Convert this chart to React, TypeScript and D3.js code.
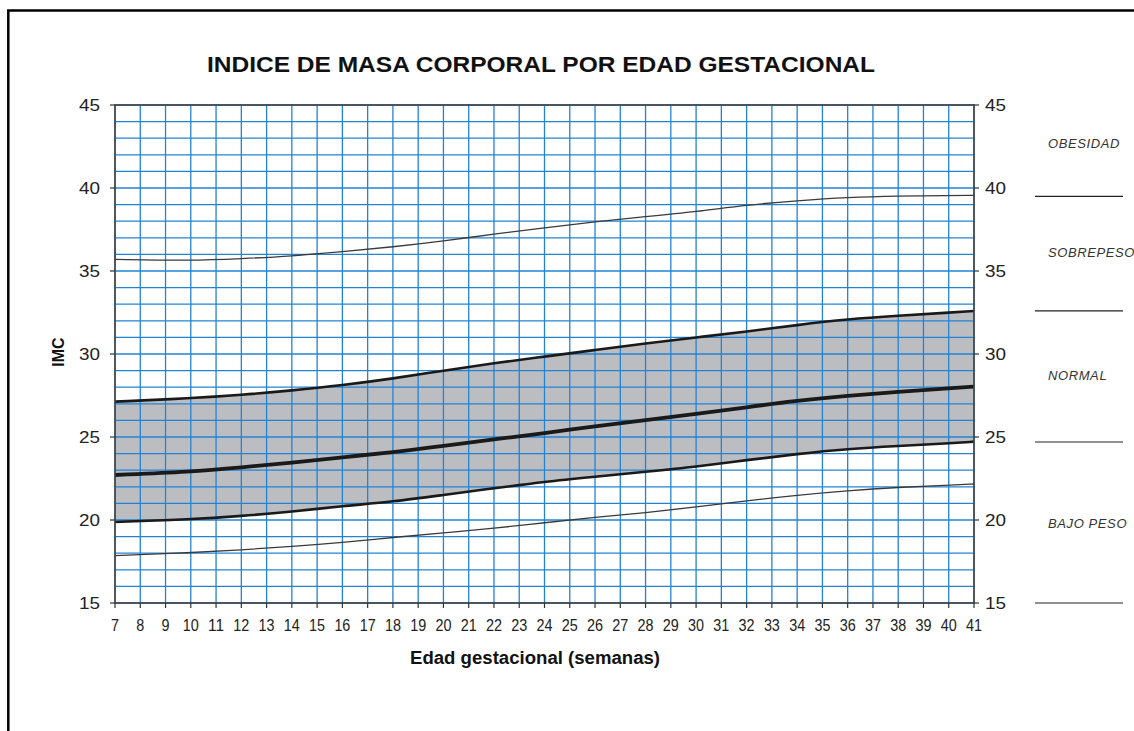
import React, { useEffect, useRef } from "react";
import * as d3 from "d3";

// semanas de gestacion y valores de IMC
const weeks = [7, 10, 12, 14, 16, 18, 20, 22, 24, 26, 28, 30, 32, 34, 36, 38, 40, 41];
const imcObesidad = [35.7, 35.62, 35.74, 35.9, 36.16, 36.45, 36.8, 37.23, 37.6, 37.97, 38.27, 38.57, 38.98, 39.24, 39.44, 39.52, 39.55, 39.56];
const imcSobrepeso = [27.13, 27.33, 27.53, 27.8, 28.12, 28.52, 29.0, 29.45, 29.84, 30.24, 30.64, 31.0, 31.35, 31.75, 32.1, 32.31, 32.49, 32.59];
const imcMedia = [22.71, 22.91, 23.17, 23.45, 23.78, 24.08, 24.46, 24.86, 25.22, 25.66, 26.02, 26.38, 26.79, 27.19, 27.49, 27.73, 27.93, 28.03];
const imcNormalMin = [19.88, 20.04, 20.24, 20.5, 20.84, 21.1, 21.51, 21.91, 22.31, 22.61, 22.91, 23.21, 23.61, 23.98, 24.28, 24.46, 24.62, 24.72];
const imcBajo = [17.85, 18.03, 18.2, 18.4, 18.64, 18.95, 19.23, 19.49, 19.84, 20.16, 20.44, 20.78, 21.16, 21.5, 21.77, 21.97, 22.1, 22.17];

// zonas de la derecha
const zoneNames = ["OBESIDAD", "SOBREPESO", "NORMAL", "BAJO PESO"];
const zoneLabelAt = [42.7, 36.1, 28.7, 19.8];
const zoneLimits = [39.5, 32.6, 24.7, 15];

const xTicks = d3.range(7, 42);
const yTicks = [15, 20, 25, 30, 35, 40, 45];
const yGrid = d3.range(15, 46);

const font = "'Liberation Sans', Arial, sans-serif";

const App = () => {
  const ref = useRef(null);

  useEffect(() => {
    const svg = d3.select(ref.current);
    svg.selectAll("*").remove();

    const x = d3.scaleLinear().domain([7, 41]).range([115, 974]);
    const y = d3.scaleLinear().domain([15, 45]).range([603, 105]);

    // marco de la pagina
    svg.append("path")
      .attr("d", "M8.3,731 L8.3,10.5 L1134,10.5")
      .attr("fill", "none")
      .attr("stroke", "#000")
      .attr("stroke-width", 2.5);

    // titulo
    svg.append("text")
      .attr("x", 541)
      .attr("y", 72)
      .attr("text-anchor", "middle")
      .attr("font-family", font)
      .attr("font-weight", "bold")
      .attr("font-size", 22)
      .attr("textLength", 668)
      .attr("lengthAdjust", "spacingAndGlyphs")
      .attr("fill", "#111")
      .text("INDICE DE MASA CORPORAL POR EDAD GESTACIONAL");

    // banda normal (gris)
    const area = d3.area()
      .x((d, i) => x(weeks[i]))
      .y0((d, i) => y(imcNormalMin[i]))
      .y1((d, i) => y(imcSobrepeso[i]))
      .curve(d3.curveBasis);
    svg.append("path")
      .attr("d", area(weeks))
      .attr("fill", "#bcbdc1");

    // cuadricula azul
    const grid = svg.append("g").attr("stroke", "#2383d3").attr("stroke-width", 1.3);
    grid.selectAll("line.v")
      .data(xTicks)
      .join("line")
      .attr("class", "v")
      .attr("x1", d => x(d))
      .attr("x2", d => x(d))
      .attr("y1", y(45))
      .attr("y2", y(15));
    grid.selectAll("line.h")
      .data(yGrid)
      .join("line")
      .attr("class", "h")
      .attr("x1", x(7))
      .attr("x2", x(41))
      .attr("y1", d => y(d))
      .attr("y2", d => y(d));

    // curvas
    const curves = [
      { values: imcObesidad, width: 1.3, color: "#3a3a3a" },
      { values: imcSobrepeso, width: 2.6, color: "#1a1a1a" },
      { values: imcMedia, width: 3.8, color: "#1a1a1a" },
      { values: imcNormalMin, width: 2.6, color: "#1a1a1a" },
      { values: imcBajo, width: 1.3, color: "#3a3a3a" },
    ];
    curves.forEach(c => {
      const line = d3.line()
        .x((d, i) => x(weeks[i]))
        .y(d => y(d))
        .curve(d3.curveBasis);
      svg.append("path")
        .attr("d", line(c.values))
        .attr("fill", "none")
        .attr("stroke", c.color)
        .attr("stroke-width", c.width);
    });

    // ejes
    svg.append("rect")
      .attr("x", x(7))
      .attr("y", y(45))
      .attr("width", x(41) - x(7))
      .attr("height", y(15) - y(45))
      .attr("fill", "none")
      .attr("stroke", "#444")
      .attr("stroke-width", 1.6);

    const ticks = svg.append("g").attr("stroke", "#333").attr("stroke-width", 1.2);
    ticks.selectAll("line.l")
      .data(yTicks)
      .join("line")
      .attr("class", "l")
      .attr("x1", x(7) - 5)
      .attr("x2", x(7))
      .attr("y1", d => y(d))
      .attr("y2", d => y(d));
    ticks.selectAll("line.r")
      .data(yTicks)
      .join("line")
      .attr("class", "r")
      .attr("x1", x(41))
      .attr("x2", x(41) + 5)
      .attr("y1", d => y(d))
      .attr("y2", d => y(d));
    ticks.selectAll("line.b")
      .data(xTicks)
      .join("line")
      .attr("class", "b")
      .attr("x1", d => x(d))
      .attr("x2", d => x(d))
      .attr("y1", y(15))
      .attr("y2", y(15) + 5);

    const labels = svg.append("g")
      .attr("font-family", font)
      .attr("fill", "#222");
    labels.selectAll("text.l")
      .data(yTicks)
      .join("text")
      .attr("class", "l")
      .attr("x", 100)
      .attr("y", d => y(d))
      .attr("dy", "0.36em")
      .attr("text-anchor", "end")
      .attr("font-size", 17)
      .attr("textLength", 21)
      .attr("lengthAdjust", "spacingAndGlyphs")
      .text(d => d);
    labels.selectAll("text.r")
      .data(yTicks)
      .join("text")
      .attr("class", "r")
      .attr("x", 985)
      .attr("y", d => y(d))
      .attr("dy", "0.36em")
      .attr("font-size", 17)
      .attr("textLength", 21)
      .attr("lengthAdjust", "spacingAndGlyphs")
      .text(d => d);
    labels.selectAll("text.b")
      .data(xTicks)
      .join("text")
      .attr("class", "b")
      .attr("x", d => x(d))
      .attr("y", 631)
      .attr("text-anchor", "middle")
      .attr("font-size", 17)
      .attr("textLength", d => (d < 10 ? 8 : 16))
      .attr("lengthAdjust", "spacingAndGlyphs")
      .text(d => d);

    // titulos de ejes
    svg.append("text")
      .attr("x", 535)
      .attr("y", 664)
      .attr("text-anchor", "middle")
      .attr("font-family", font)
      .attr("font-weight", "bold")
      .attr("font-size", 18)
      .attr("textLength", 250)
      .attr("lengthAdjust", "spacingAndGlyphs")
      .attr("fill", "#111")
      .text("Edad gestacional (semanas)");
    svg.append("text")
      .attr("transform", "translate(64,352) rotate(-90)")
      .attr("text-anchor", "middle")
      .attr("font-family", font)
      .attr("font-weight", "bold")
      .attr("font-size", 16)
      .attr("fill", "#111")
      .text("IMC");

    // zonas a la derecha
    svg.append("g")
      .selectAll("line")
      .data(zoneLimits)
      .join("line")
      .attr("x1", 1035)
      .attr("x2", 1123)
      .attr("y1", d => y(d))
      .attr("y2", d => y(d))
      .attr("stroke", "#222")
      .attr("stroke-width", 1.2);
    svg.append("g")
      .selectAll("text")
      .data(zoneNames)
      .join("text")
      .attr("x", 1048)
      .attr("y", (d, i) => y(zoneLabelAt[i]))
      .attr("dy", "0.36em")
      .attr("font-family", font)
      .attr("font-style", "italic")
      .attr("font-size", 13)
      .attr("letter-spacing", 0.6)
      .attr("fill", "#333")
      .text(d => d);
  }, []);

  return (
    <div>
      <svg
        ref={ref}
        width={1134}
        height={731}
        style={{ position: "absolute", left: 0, top: 0, display: "block" }}
      />
    </div>
  );
};

export default App;
